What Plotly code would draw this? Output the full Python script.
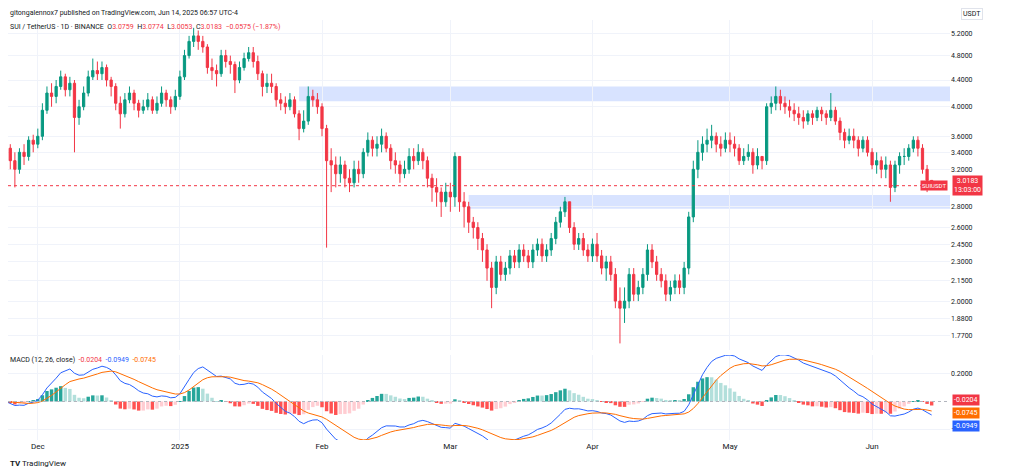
"""SUI / TetherUS 1D candles with MACD - TradingView style"""

import pandas as pd
import plotly.graph_objects as go
from plotly.subplots import make_subplots

dates = pd.date_range('2024-11-24', '2025-06-14', freq='D')

closes = [
    3.45, 3.30, 3.20, 3.40, 3.35, 3.55, 3.50,
    3.60, 3.95, 4.20, 4.15, 4.30, 4.45, 4.25, 4.35, 3.85, 4.00, 4.20, 4.45, 4.55, 4.50, 4.60, 4.40,
    4.30, 4.05, 3.90, 4.10, 4.20, 4.05, 3.95, 4.00, 4.10, 3.95, 4.05, 4.20, 4.10, 4.00, 4.15,
    4.45, 4.80, 5.05, 5.15, 5.05, 4.95, 4.60, 4.55, 4.50, 4.80, 4.70, 4.65, 4.40, 4.60, 4.75, 4.85,
    4.70, 4.50, 4.30, 4.35, 4.30, 4.10, 4.05, 4.00, 4.10, 3.90, 3.70, 3.80, 4.15, 4.10, 4.00,
    3.70, 3.30, 3.25, 3.15, 3.25, 3.10, 3.05, 3.20, 3.15, 3.40, 3.55, 3.45, 3.50, 3.60, 3.45, 3.30,
    3.25, 3.15, 3.20, 3.35, 3.30, 3.40, 3.30, 3.10, 3.00, 2.95, 2.85, 2.95,
    2.90, 3.35, 2.85, 2.80, 2.65, 2.60, 2.50, 2.40, 2.25, 2.10, 2.30, 2.20, 2.25, 2.35, 2.30, 2.40,
    2.35, 2.30, 2.40, 2.45, 2.35, 2.40, 2.50, 2.65, 2.75, 2.85, 2.60, 2.45, 2.50, 2.40, 2.35,
    2.45, 2.35, 2.25, 2.30, 2.20, 2.00, 1.95, 2.00, 2.20, 2.05, 2.10, 2.20, 2.40, 2.30, 2.20, 2.15,
    2.05, 2.10, 2.15, 2.10, 2.25, 2.70, 3.20, 3.40, 3.50, 3.55, 3.60, 3.50, 3.45, 3.55,
    3.50, 3.45, 3.30, 3.35, 3.40, 3.25, 3.35, 3.30, 4.00, 4.05, 4.15, 4.05, 4.00, 3.95, 3.90, 3.85,
    3.80, 3.90, 3.85, 3.95, 3.90, 3.85, 3.95, 3.80, 3.65, 3.55, 3.60, 3.55, 3.45, 3.55, 3.40,
    3.25, 3.30, 3.20, 3.25, 3.00, 3.25, 3.35, 3.35, 3.45, 3.55, 3.45, 3.20, 3.0759, 3.0183,
]
highs = [
    3.55, 3.50, 3.40, 3.45, 3.50, 3.60, 3.62,
    3.70, 4.05, 4.30, 4.35, 4.40, 4.55, 4.50, 4.45, 4.40, 4.10, 4.30, 4.55, 4.75, 4.70, 4.70, 4.65,
    4.45, 4.35, 4.15, 4.20, 4.30, 4.25, 4.10, 4.10, 4.20, 4.15, 4.15, 4.30, 4.25, 4.15, 4.25,
    4.55, 4.90, 5.15, 5.30, 5.25, 5.15, 5.00, 4.75, 4.65, 4.90, 4.90, 4.80, 4.70, 4.70, 4.85, 4.95,
    4.95, 4.80, 4.55, 4.50, 4.50, 4.35, 4.20, 4.15, 4.20, 4.15, 3.95, 3.95, 4.30, 4.25, 4.20,
    4.05, 3.75, 3.45, 3.35, 3.35, 3.30, 3.20, 3.30, 3.30, 3.45, 3.65, 3.60, 3.60, 3.70, 3.65, 3.50,
    3.40, 3.30, 3.30, 3.45, 3.45, 3.50, 3.45, 3.35, 3.15, 3.10, 3.00, 3.05,
    3.05, 3.40, 3.35, 2.95, 2.85, 2.70, 2.65, 2.55, 2.45, 2.30, 2.35, 2.35, 2.30, 2.40, 2.40, 2.45,
    2.45, 2.40, 2.45, 2.50, 2.50, 2.45, 2.55, 2.70, 2.80, 2.90, 2.85, 2.65, 2.55, 2.55, 2.45,
    2.50, 2.55, 2.40, 2.35, 2.35, 2.25, 2.10, 2.10, 2.25, 2.25, 2.15, 2.25, 2.45, 2.45, 2.35, 2.25,
    2.20, 2.15, 2.20, 2.20, 2.30, 2.75, 3.30, 3.55, 3.60, 3.70, 3.75, 3.65, 3.60, 3.65,
    3.65, 3.60, 3.50, 3.45, 3.50, 3.45, 3.45, 3.35, 4.05, 4.15, 4.30, 4.25, 4.15, 4.10, 4.05, 4.00,
    3.95, 3.95, 3.95, 4.00, 4.00, 3.95, 4.20, 4.00, 3.85, 3.70, 3.70, 3.70, 3.60, 3.60, 3.60,
    3.45, 3.40, 3.35, 3.35, 3.30, 3.30, 3.40, 3.45, 3.50, 3.60, 3.60, 3.50, 3.25, 3.0774,
]
lows = [
    3.25, 3.20, 3.00, 3.15, 3.25, 3.30, 3.40,
    3.45, 3.55, 3.90, 4.00, 4.05, 4.25, 4.15, 4.15, 3.40, 3.75, 3.95, 4.15, 4.40, 4.40, 4.40, 4.30,
    4.15, 3.95, 3.70, 3.85, 4.05, 3.95, 3.85, 3.90, 3.95, 3.90, 3.90, 4.00, 4.00, 3.90, 3.95,
    4.10, 4.40, 4.75, 4.95, 4.90, 4.85, 4.50, 4.40, 4.30, 4.45, 4.60, 4.50, 4.20, 4.35, 4.55, 4.70,
    4.60, 4.40, 4.15, 4.20, 4.20, 4.00, 3.95, 3.90, 3.95, 3.85, 3.55, 3.65, 3.75, 4.00, 3.90,
    3.60, 2.42, 2.95, 3.00, 3.05, 3.00, 2.95, 3.00, 3.05, 3.10, 3.35, 3.35, 3.35, 3.40, 3.40, 3.20,
    3.15, 3.05, 3.10, 3.15, 3.20, 3.25, 3.20, 3.00, 2.85, 2.80, 2.70, 2.80,
    2.75, 2.80, 2.75, 2.60, 2.55, 2.50, 2.40, 2.30, 2.15, 1.95, 2.05, 2.15, 2.15, 2.20, 2.25, 2.25,
    2.30, 2.25, 2.25, 2.35, 2.30, 2.30, 2.35, 2.45, 2.60, 2.70, 2.55, 2.40, 2.40, 2.35, 2.30,
    2.30, 2.30, 2.20, 2.15, 2.15, 1.95, 1.72, 1.85, 1.95, 2.00, 2.00, 2.05, 2.15, 2.25, 2.15, 2.10,
    2.00, 2.00, 2.05, 2.05, 2.05, 2.20, 2.65, 3.10, 3.30, 3.40, 3.45, 3.40, 3.35, 3.40,
    3.40, 3.35, 3.25, 3.25, 3.30, 3.15, 3.20, 3.20, 3.25, 3.90, 3.95, 3.95, 3.90, 3.85, 3.80, 3.75,
    3.70, 3.75, 3.75, 3.80, 3.80, 3.75, 3.80, 3.75, 3.55, 3.45, 3.50, 3.45, 3.35, 3.40, 3.35,
    3.20, 3.15, 3.10, 3.10, 2.85, 2.95, 3.15, 3.25, 3.30, 3.40, 3.35, 3.15, 2.95, 3.0053,
]
opens = [3.40] + closes[:-1]

price_ticks = [5.2, 4.8, 4.4, 4.0, 3.6, 3.4, 3.2, 2.8, 2.6, 2.45, 2.3, 2.15, 2.0, 1.88, 1.77]
month_ticks = ['2024-12-01', '2025-01-01', '2025-02-01', '2025-03-01', '2025-04-01', '2025-05-01', '2025-06-01']
month_labels = ['Dec', '2025', 'Feb', 'Mar', 'Apr', 'May', 'Jun']

# MACD 12/26/9
s = pd.Series(closes, index=dates)
macd = s.ewm(span=12, adjust=False).mean() - s.ewm(span=26, adjust=False).mean()
signal = macd.ewm(span=9, adjust=False).mean()
hist = macd - signal
hist_colors = []
prev = 0
for h in hist:
    if h >= 0:
        hist_colors.append('#26a69a' if h >= prev else '#b2dfdb')
    else:
        hist_colors.append('#ff5252' if h <= prev else '#ffcdd2')
    prev = h

UP, DOWN = '#089981', '#f23645'
# page has an 8px body margin, so the figure is drawn 8px smaller and offset
W, H, OFF = 1008, 464, 8
T, B = 12, 32
PH = H - T - B

fig = make_subplots(rows=2, cols=1, shared_xaxes=True)
fig.add_trace(go.Candlestick(
    x=dates, open=opens, high=highs, low=lows, close=closes,
    increasing=dict(line=dict(color=UP, width=1), fillcolor=UP),
    decreasing=dict(line=dict(color=DOWN, width=1), fillcolor=DOWN),
    whiskerwidth=0, showlegend=False), row=1, col=1)
fig.add_trace(go.Bar(x=dates, y=hist, marker_color=hist_colors, marker_line_width=0,
                     showlegend=False), row=2, col=1)
fig.add_trace(go.Scatter(x=dates, y=macd, mode='lines', line=dict(color='#2962ff', width=1),
                         showlegend=False), row=2, col=1)
fig.add_trace(go.Scatter(x=dates, y=signal, mode='lines', line=dict(color='#ff6d00', width=1),
                         showlegend=False), row=2, col=1)

# supply / demand zones
fig.add_shape(type='rect', xref='x', yref='y', x0='2025-01-27', x1='2025-06-18',
              y0=4.08, y1=4.3, fillcolor='rgba(41,98,255,0.18)', line_width=0, layer='below')
fig.add_shape(type='rect', xref='x', yref='y', x0='2025-03-05', x1='2025-06-18',
              y0=2.78, y1=2.92, fillcolor='rgba(41,98,255,0.18)', line_width=0, layer='below')
fig.add_hline(y=closes[-1], line=dict(color=DOWN, width=1, dash='dot'), row=1, col=1)
fig.add_hline(y=0, line=dict(color='#b2b5be', width=1, dash='dot'), row=2, col=1)

fig.update_xaxes(range=['2024-11-24 12:00', '2025-06-18'], showgrid=True, gridcolor='#f0f3fa',
                 tickvals=month_ticks, ticktext=month_labels, showline=False,
                 tickfont=dict(size=8, color='#131722'), rangeslider_visible=False)
fig.update_xaxes(showticklabels=False, row=1, col=1)
fig.update_yaxes(type='log', side='right', range=[0.2253, 0.7364], tickvals=price_ticks,
                 tickformat='.4f', gridcolor='#f0f3fa', tickfont=dict(size=7, color='#131722'),
                 domain=[(440 - 350) / PH, 1], row=1, col=1)
fig.update_yaxes(side='right', range=[-0.28, 0.338], tickvals=[0.2, -0.2], tickformat='.4f',
                 gridcolor='#f0f3fa', zeroline=False, tickfont=dict(size=7, color='#131722'),
                 domain=[0, (440 - 355) / PH], row=2, col=1)


def py(ypx):
    """page pixel y -> paper y"""
    return (H - B - (ypx - OFF)) / PH


ann = [
    (13, 'gitongalennox7 published on TradingView.com, Jun 14, 2025 06:57 UTC-4', 7),
    (27, 'SUI / TetherUS · 1D · BINANCE  O<span style="color:#f23645">3.0759</span>'
         '  H<span style="color:#f23645">3.0774</span>  L<span style="color:#f23645">3.0053</span>'
         '  C<span style="color:#f23645">3.0183  −0.0575 (−1.87%)</span>', 7),
    (360, 'MACD (12, 26, close)  <span style="color:#f23645">-0.0204</span>'
          '  <span style="color:#2962ff">-0.0949</span>  <span style="color:#ff6d00">-0.0745</span>', 7),
    (463, '<b>TV</b> TradingView', 8),
]
fig.update_layout(
    width=W, height=H, template='plotly_white', plot_bgcolor='white',
    margin=dict(l=0, r=66, t=T, b=B), bargap=0.25,
    font=dict(family='Roboto, sans-serif'),
    annotations=[dict(xref='paper', yref='paper', x=0.0, y=py(ypx), text=t,
                      showarrow=False, xanchor='left', yanchor='middle',
                      font=dict(size=sz, color='#131722')) for ypx, t, sz in ann],
)
fig.add_annotation(xref='paper', yref='y', x=1.002, y=0.4797, text='3.0183<br>13:03:00',
                   showarrow=False, xanchor='left', bgcolor=DOWN, font=dict(size=7, color='white'))
fig.add_annotation(xref='paper', yref='y', x=0.998, y=0.4797, text='SUIUSDT',
                   showarrow=False, xanchor='right', bgcolor=DOWN, font=dict(size=6, color='white'))
fig.add_annotation(xref='paper', yref='paper', x=1.012, y=py(14), text='USDT', showarrow=False,
                   xanchor='left', yanchor='middle', font=dict(size=7, color='#131722'),
                   bordercolor='#e0e3eb', borderwidth=1)
for ypx, v, c in [(400, -0.0204, DOWN), (413, -0.0745, '#ff6d00'), (426, -0.0949, '#2962ff')]:
    fig.add_annotation(xref='paper', yref='paper', x=1.002, y=py(ypx), text=f'{v:.4f}',
                       showarrow=False, xanchor='left', yanchor='middle', bgcolor=c,
                       font=dict(size=7, color='white'))
fig.write_html('out.html')
